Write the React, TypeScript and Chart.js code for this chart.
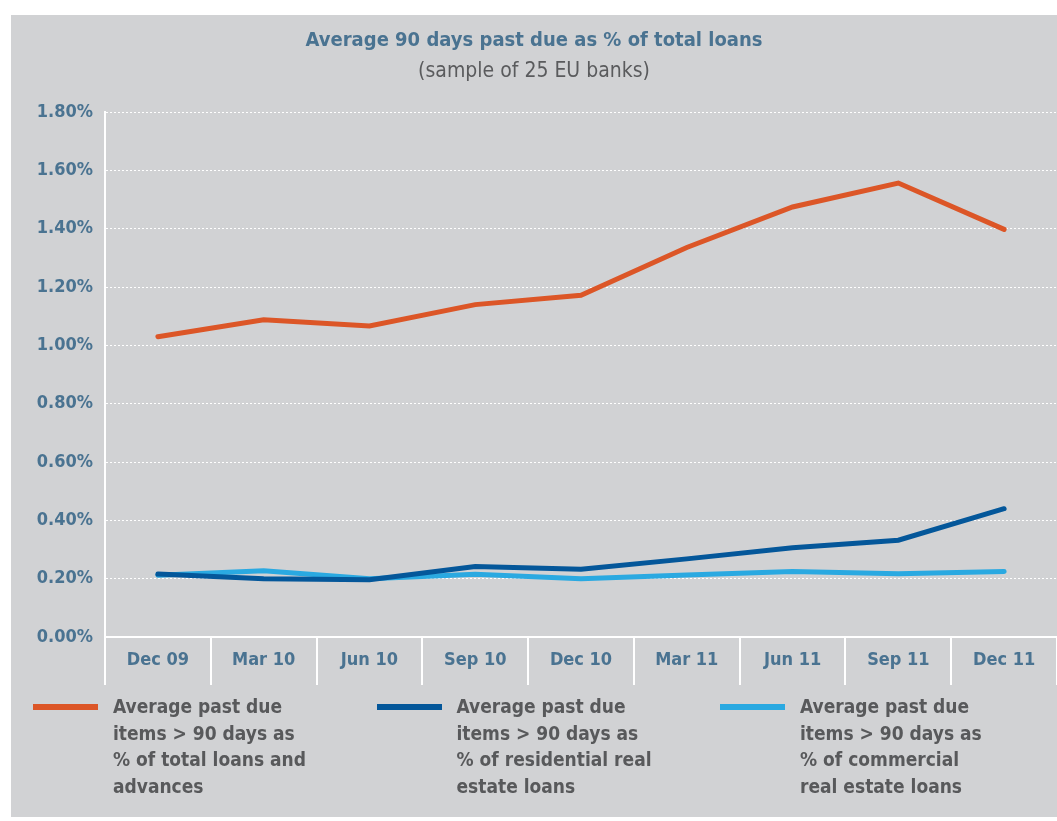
import React, { useEffect, useRef } from "react";
import { Chart, registerables } from "chart.js";

Chart.register(...registerables);

const categories = ["Dec 09", "Mar 10", "Jun 10", "Sep 10", "Dec 10", "Mar 11", "Jun 11", "Sep 11", "Dec 11"];
const totalLoans = [1.03, 1.088, 1.067, 1.14, 1.172, 1.336, 1.475, 1.557, 1.398];
const residentialLoans = [0.216, 0.2, 0.196, 0.242, 0.232, 0.268, 0.306, 0.332, 0.44];
const commercialLoans = [0.212, 0.227, 0.2, 0.215, 0.2, 0.213, 0.225, 0.217, 0.225];
const legendLines = [
  ["Average past due", "items > 90 days as", "% of total loans and", "advances"],
  ["Average past due", "items > 90 days as", "% of residential real", "estate loans"],
  ["Average past due", "items > 90 days as", "% of commercial", "real estate loans"],
];
const seriesColors = ["#dc5627", "#04579a", "#2aa9e1"];
const titleText = "Average 90 days past due as % of total loans";
const subtitleText = "(sample of 25 EU banks)";
const yMax = 1.8;
const yStep = 0.2;

const FONT = "'DejaVu Sans Condensed', 'Liberation Sans Narrow', 'DejaVu Sans', sans-serif";
const BLUE_TEXT = "#4a7391";
const GRAY_TEXT = "#58595b";
const PANEL_BG = "#d1d2d4";

export default function App() {
  const canvasRef = useRef<HTMLCanvasElement | null>(null);

  useEffect(() => {
    const canvas = canvasRef.current;
    if (!canvas) return;
    const chart = new Chart(canvas, {
      type: "line",
      data: {
        labels: categories,
        datasets: [totalLoans, residentialLoans, commercialLoans].map((d, i) => ({
          label: legendLines[i].join(" "),
          data: d,
          borderColor: seriesColors[i],
          backgroundColor: seriesColors[i],
          borderWidth: 5,
          borderCapStyle: "round",
          borderJoinStyle: "miter",
          pointRadius: 0,
          tension: 0,
          fill: false,
        })),
      },
      options: {
        responsive: false,
        animation: false,
        devicePixelRatio: 1,
        layout: { padding: { top: 0, left: 0, right: 0, bottom: 10 } },
        plugins: {
          legend: { display: false },
          tooltip: { enabled: false },
          title: {
            display: true,
            text: titleText,
            color: BLUE_TEXT,
            font: { family: FONT, size: 20, weight: "bold" },
            padding: { top: 14, bottom: 6 },
          },
          subtitle: {
            display: true,
            text: subtitleText,
            color: "#5a5b5d",
            font: { family: FONT, size: 21, weight: "normal" },
            padding: { top: 0, bottom: 28 },
          },
        },
        scales: {
          x: {
            type: "category",
            offset: true,
            grid: {
              display: true,
              offset: true,
              color: "#ffffff",
              lineWidth: 2,
              drawOnChartArea: false,
              drawTicks: true,
              tickLength: 48,
            },
            border: { display: true, color: "#ffffff", width: 2 },
            ticks: {
              color: BLUE_TEXT,
              font: { family: FONT, size: 18, weight: "bold" },
              padding: -35,
              maxRotation: 0,
              autoSkip: false,
            },
            afterFit: (scale: any) => {
              scale.height = 48;
            },
          },
          y: {
            min: 0,
            max: yMax,
            grid: {
              color: "#ffffff",
              lineWidth: 1,
              drawTicks: false,
            },
            border: { display: true, color: "#ffffff", width: 2, dash: [2, 2] },
            ticks: {
              stepSize: yStep,
              color: BLUE_TEXT,
              font: { family: FONT, size: 18, weight: "bold" },
              padding: 12,
              callback: (v: any) => Number(v).toFixed(2) + "%",
            },
            afterFit: (scale: any) => {
              scale.width = 94;
            },
          },
        },
      },
    });
    return () => chart.destroy();
  }, []);

  return (
    <div style={{ position: "absolute", left: 0, top: 0, width: 1057, height: 821, background: "#ffffff", overflow: "hidden" }}>
      <div style={{ position: "absolute", left: 11, top: 15, width: 1046, height: 802, background: PANEL_BG }}>
        <canvas ref={canvasRef} width={1046} height={680} style={{ position: "absolute", left: 0, top: 0, width: 1046, height: 680 }} />
        {legendLines.map((lines, i) => (
          <div key={i} style={{ position: "absolute", left: 22 + i * 343.5, top: 678, width: 330 }}>
            <div style={{ position: "absolute", left: 0, top: 11, width: 65, height: 6, background: seriesColors[i] }} />
            <div
              style={{
                position: "absolute",
                left: 80,
                top: 0,
                fontFamily: FONT,
                fontWeight: "bold",
                fontSize: 19,
                lineHeight: "26.5px",
                color: GRAY_TEXT,
                whiteSpace: "nowrap",
              }}
            >
              {lines.map((l, j) => (
                <div key={j}>{l}</div>
              ))}
            </div>
          </div>
        ))}
      </div>
    </div>
  );
}
